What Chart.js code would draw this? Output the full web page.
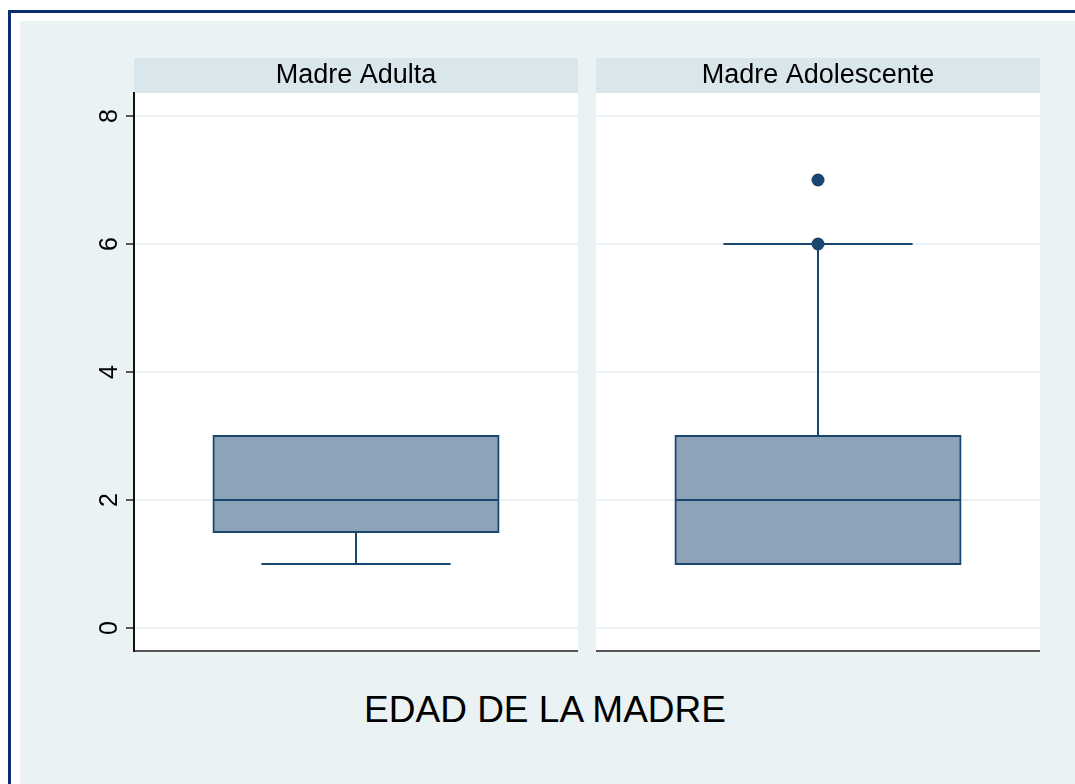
<!DOCTYPE html>
<html>
<head>
<meta charset="utf-8">
<script src="https://cdn.jsdelivr.net/npm/chart.js@4.4.1/dist/chart.umd.min.js"></script>
<style>
  html, body { margin: 0; padding: 0; background: #fff; overflow: hidden; }
  #frame {
    position: absolute; left: 8px; top: 10px; width: 1100px; height: 800px;
    border: 3px solid #0d2b6e; background: #fff;
  }
  #inner {
    position: absolute; left: 20px; top: 21px; width: 1100px; height: 800px;
    background: #eaf2f3;
  }
  .panel { position: absolute; }
  #left { left: 20px; top: 21px; width: 558px; height: 640px; }
  #right { left: 596px; top: 21px; width: 444px; height: 640px; }
  #xtitle {
    position: absolute; left: 20px; width: 1050px; top: 691px;
    text-align: center; font: 37px/37px "Liberation Sans", Arial, sans-serif; color: #000;
  }
</style>
</head>
<body>
<div id="frame"></div>
<div id="inner"></div>
<div class="panel" id="left"><canvas id="chartLeft"></canvas></div>
<div class="panel" id="right"><canvas id="chartRight"></canvas></div>
<div id="xtitle">EDAD DE LA MADRE</div>
<script>
// box plot stats, one entry per panel
const panels = ["Madre Adulta", "Madre Adolescente"];
const q1 = [1.5, 1];
const medians = [2, 2];
const q3 = [3, 3];
const whiskerLow = [1, 1];
const whiskerHigh = [3, 6];
const outliers = [[], [6, 7]];
const yTicks = [0, 2, 4, 6, 8];

const navy = '#1a476f';
const boxFill = '#8ca3b8';
const boxHalf = 0.321;   // half box width, share of panel
const capHalf = 0.213;   // half whisker cap width

Chart.defaults.font.family = "'Liberation Sans', Arial, sans-serif";
Chart.defaults.color = '#000';

// white plot area + grey strip with the panel name on top
const panelPlugin = {
    id: 'panelStrip',
    beforeDraw(chart, args, opts) {
        const {ctx, chartArea: a} = chart;
        ctx.save();
        ctx.fillStyle = '#fff';
        ctx.fillRect(a.left, a.top, a.right - a.left, a.bottom - a.top);
        ctx.fillStyle = '#d9e6eb';
        ctx.fillRect(a.left, a.top - 35, a.right - a.left, 35);
        ctx.fillStyle = '#000';
        ctx.font = "27px 'Liberation Sans', Arial, sans-serif";
        ctx.textAlign = 'center';
        ctx.textBaseline = 'middle';
        ctx.fillText(opts.text, (a.left + a.right) / 2, a.top - 17);
        ctx.restore();
    }
};

function seg(x1, x2, y1, y2) {
    return [{x: x1, y: y1}, {x: x2, y: y2}];
}

function noPad(s) {
    s.paddingTop = 0;
    s.paddingBottom = 0;
    s.paddingLeft = 0;
    s.paddingRight = 0;
}

function makeChart(id, i, showAxis) {
    const lineStyle = {
        type: 'line', borderColor: navy, borderWidth: 2,
        pointRadius: 0, spanGaps: false, order: 0
    };
    // whisker + cap only where they reach past the box
    let whiskers = [], caps = [];
    if (whiskerHigh[i] > q3[i]) {
        whiskers = whiskers.concat(seg(0, 0, q3[i], whiskerHigh[i]), [{x: 0, y: null}]);
        caps = caps.concat(seg(-capHalf, capHalf, whiskerHigh[i], whiskerHigh[i]), [{x: 0, y: null}]);
    }
    if (whiskerLow[i] < q1[i]) {
        whiskers = whiskers.concat(seg(0, 0, q1[i], whiskerLow[i]));
        caps = caps.concat(seg(-capHalf, capHalf, whiskerLow[i], whiskerLow[i]));
    }

    return new Chart(document.getElementById(id), {
        type: 'bar',
        data: {
            datasets: [
                Object.assign({label: 'median', data: seg(-boxHalf, boxHalf, medians[i], medians[i])}, lineStyle),
                Object.assign({label: 'whiskers', data: whiskers}, lineStyle),
                Object.assign({label: 'caps', data: caps}, lineStyle),
                {
                    label: 'outliers', type: 'scatter',
                    data: outliers[i].map(v => ({x: 0, y: v})),
                    pointRadius: 6.5, pointBackgroundColor: navy, pointBorderWidth: 0, order: 0
                },
                {
                    label: panels[i], data: [{x: 0, y: [q1[i], q3[i]]}],
                    backgroundColor: boxFill, borderColor: navy, borderWidth: 2,
                    borderSkipped: false, inflateAmount: 1,
                    barPercentage: 2 * boxHalf, categoryPercentage: 1,
                    order: 1
                }
            ]
        },
        options: {
            responsive: true,
            maintainAspectRatio: false,
            animation: false,
            layout: { autoPadding: false, padding: { top: 72, left: 0, right: 0, bottom: 0 } },
            plugins: {
                legend: { display: false },
                tooltip: { enabled: false },
                panelStrip: { text: panels[i] }
            },
            scales: {
                x: {
                    type: 'linear', min: -0.5, max: 0.5, offset: false,
                    afterBuildTicks: s => { s.ticks = [{value: -0.5}, {value: 0.5}]; },
                    ticks: { display: false },
                    grid: { display: false },
                    border: { display: true, color: '#555', width: 2 },
                    afterFit: s => { s.height = 10; noPad(s); }
                },
                y: {
                    min: -0.36,
                    max: 8.36,
                    afterBuildTicks: s => { s.ticks = yTicks.map(v => ({value: v})); },
                    afterFit: s => { s.width = showAxis ? 114 : 0; noPad(s); },
                    grid: {
                        color: '#eaf0f3', lineWidth: 2,
                        drawTicks: showAxis, tickLength: 8, tickColor: '#555', tickWidth: 2
                    },
                    border: { display: showAxis, color: '#111', width: 2 },
                    ticks: {
                        display: showAxis,
                        minRotation: 90, maxRotation: 90,
                        crossAlign: 'center', padding: 9,
                        font: { size: 25 }
                    }
                }
            }
        },
        plugins: [panelPlugin]
    });
}

makeChart('chartLeft', 0, true);
makeChart('chartRight', 1, false);
</script>
</body>
</html>
